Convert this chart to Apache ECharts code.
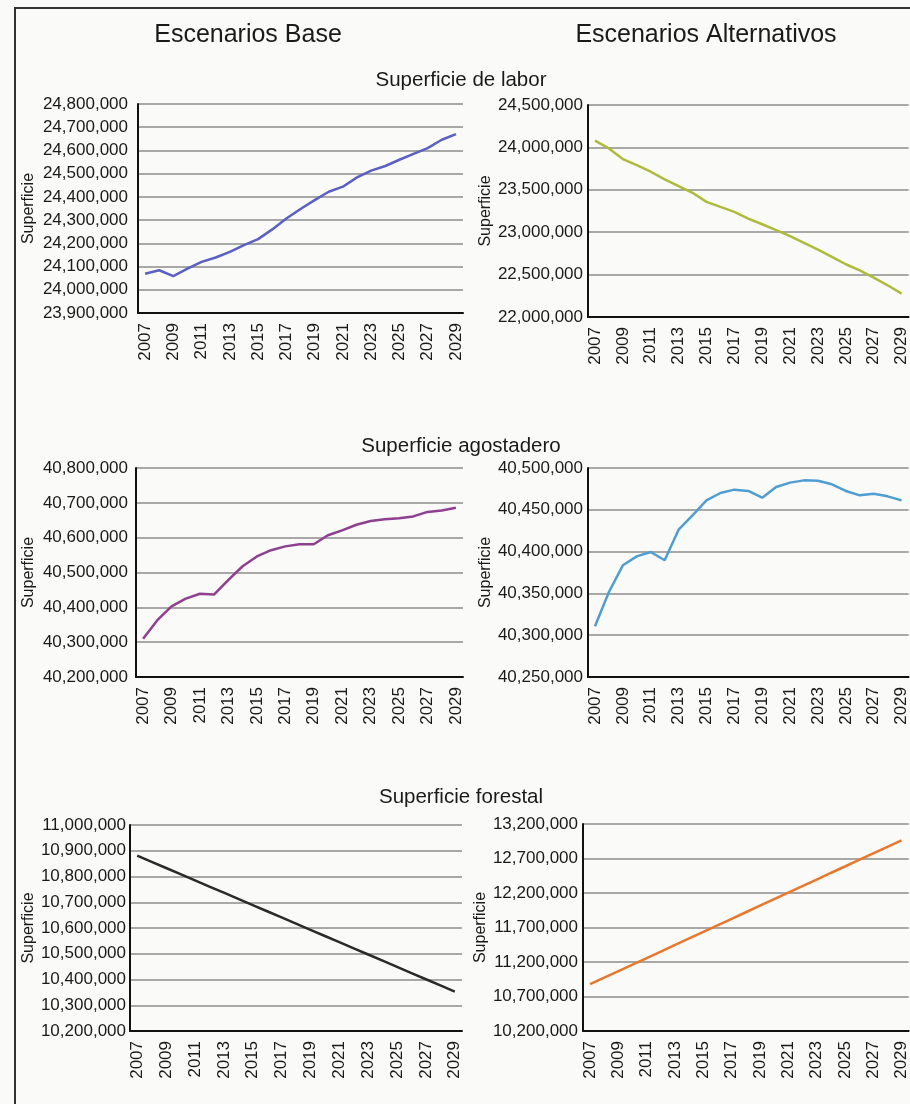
<!DOCTYPE html>
<html>
<head>
<meta charset="utf-8">
<script src="https://cdn.jsdelivr.net/npm/echarts@6/dist/echarts.min.js"></script>
<style>
html,body{margin:0;padding:0;background:#fafaf8;}
#c{width:910px;height:1104px;}
</style>
</head>
<body>
<div id="c"></div>
<script>
// ---- Data ----
const years = ['2007','2008','2009','2010','2011','2012','2013','2014','2015','2016','2017','2018','2019','2020','2021','2022','2023','2024','2025','2026','2027','2028','2029'];

const laborBase = [24069000,24084000,24059000,24091000,24120000,24139000,24163000,24192000,24218000,24260000,24307000,24348000,24386000,24422000,24444000,24484000,24513000,24533000,24560000,24585000,24610000,24646000,24670000];
const laborAlt = [24079000,23988000,23862000,23791000,23713000,23622000,23543000,23465000,23358000,23299000,23240000,23161000,23094000,23024000,22953000,22874000,22795000,22709000,22622000,22551000,22465000,22374000,22276000];
const agostBase = [40310000,40363000,40403000,40425000,40439000,40437000,40479000,40518000,40546000,40564000,40575000,40581000,40581000,40607000,40621000,40637000,40648000,40653000,40656000,40661000,40674000,40678000,40686000];
const agostAlt = [40310600,40351700,40383600,40394300,40399500,40389600,40426200,40443400,40461300,40470100,40474100,40472500,40464500,40477300,40482500,40485200,40484800,40480500,40472500,40467300,40469300,40466100,40461300];
const forestBase = [10881000,10857000,10833000,10809000,10785000,10761000,10737000,10713000,10689000,10665000,10641000,10617000,10593000,10569000,10545000,10521000,10497000,10473000,10449000,10425000,10401000,10377000,10353000];
const forestAlt = [10878000,10973000,11068000,11162000,11257000,11352000,11447000,11542000,11636000,11731000,11826000,11921000,12016000,12110000,12205000,12300000,12395000,12490000,12584000,12679000,12774000,12869000,12963000];

const yRanges = [
  [23900000, 24800000, 100000],
  [22000000, 24500000, 500000],
  [40200000, 40800000, 100000],
  [40250000, 40500000, 50000],
  [10200000, 11000000, 100000],
  [10200000, 13200000, 500000]
];
const seriesData = [laborBase, laborAlt, agostBase, agostAlt, forestBase, forestAlt];
const colorsList = ['#5a60c4', '#aebb3c', '#8e3f90', '#4f9ed2', '#2a2a2a', '#e8782e'];

const columnTitles = ['Escenarios Base', 'Escenarios Alternativos'];
const rowTitles = ['Superficie de labor', 'Superficie agostadero', 'Superficie forestal'];
const axisName = 'Superficie';

// ---- Layout ----
const grids = [
  {left:138, top:104, width:325, height:209},
  {left:588, top:105, width:324, height:212},
  {left:136, top:468, width:327, height:209},
  {left:588, top:468, width:324, height:209},
  {left:130, top:825, width:332, height:206},
  {left:583, top:824, width:328, height:207}
];
const labelMargins = [10, 5, 8, 5, 4, 5];
const nameGaps = [101, 94, 99, 94, 93, 93];

const FONT = '"Liberation Sans", Arial, sans-serif';
const fmt = v => Math.round(v).toLocaleString('en-US');

const option = {
  animation: false,
  backgroundColor: '#fafaf8',
  title: [
    {text: columnTitles[0], left: 243, top: 30, textAlign: 'center', textVerticalAlign: 'middle',
     textStyle:{fontFamily: FONT, fontSize: 25, fontWeight: 'normal', color:'#1a1a1a'}},
    {text: columnTitles[1], left: 701, top: 30, textAlign: 'center', textVerticalAlign: 'middle',
     textStyle:{fontFamily: FONT, fontSize: 25, fontWeight: 'normal', color:'#1a1a1a'}},
    {text: rowTitles[0], left: 456, top: 75, textAlign: 'center', textVerticalAlign: 'middle',
     textStyle:{fontFamily: FONT, fontSize: 20.5, fontWeight: 'normal', color:'#1a1a1a'}},
    {text: rowTitles[1], left: 456, top: 441, textAlign: 'center', textVerticalAlign: 'middle',
     textStyle:{fontFamily: FONT, fontSize: 20.5, fontWeight: 'normal', color:'#1a1a1a'}},
    {text: rowTitles[2], left: 456, top: 792, textAlign: 'center', textVerticalAlign: 'middle',
     textStyle:{fontFamily: FONT, fontSize: 20.5, fontWeight: 'normal', color:'#1a1a1a'}}
  ],
  grid: grids.map(g => Object.assign({containLabel:false}, g)),
  xAxis: grids.map((g, i) => ({
    type: 'category',
    gridIndex: i,
    data: years,
    boundaryGap: true,
    axisLine: {show: true, lineStyle: {color: '#111', width: 2}},
    axisTick: {show: false},
    axisLabel: {rotate: 90, interval: 1, fontFamily: FONT, fontSize: 17, color: '#1a1a1a', margin: 10},
    splitLine: {show: false}
  })),
  yAxis: grids.map((g, i) => ({
    type: 'value',
    gridIndex: i,
    min: yRanges[i][0], max: yRanges[i][1], interval: yRanges[i][2],
    name: axisName,
    nameLocation: 'middle',
    nameGap: nameGaps[i],
    nameTextStyle: {fontFamily: FONT, fontSize: 16, color: '#1a1a1a'},
    axisLine: {show: true, lineStyle: {color: '#111', width: 2}},
    axisTick: {show: false},
    axisLabel: {fontFamily: FONT, fontSize: 17, color: '#1a1a1a', margin: labelMargins[i], formatter: fmt},
    splitLine: {show: true, lineStyle: {color: '#8c8c8c', width: 1.5}}
  })),
  series: seriesData.map((d, i) => ({
    type: 'line',
    xAxisIndex: i, yAxisIndex: i,
    data: d,
    showSymbol: false,
    symbol: 'none',
    lineStyle: {color: colorsList[i], width: 2.5},
    itemStyle: {color: colorsList[i]},
    z: 5
  })),
  graphic: [
    {type: 'line', shape: {x1: 14, y1: 8, x2: 910, y2: 8}, style: {stroke: '#333', lineWidth: 2}},
    {type: 'line', shape: {x1: 15, y1: 8, x2: 15, y2: 1104}, style: {stroke: '#333', lineWidth: 2}}
  ]
};

const chart = echarts.init(document.getElementById('c'), null, {renderer: 'canvas'});
chart.setOption(option);
</script>
</body>
</html>
